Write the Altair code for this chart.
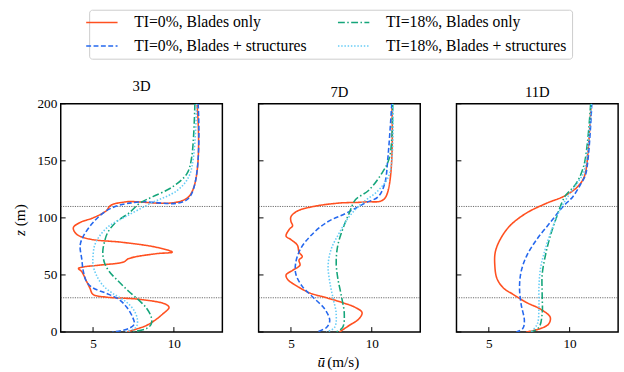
import altair as alt
import pandas as pd

FONT = "Liberation Serif, Times New Roman, serif"

# legend / draw order (legend fills column by column)
SERIES = ["TI=0%, Blades only", "TI=0%, Blades + structures",
          "TI=18%, Blades only", "TI=18%, Blades + structures"]
COLORS = ["#FF5020", "#2568EE", "#14A57A", "#66CCF6"]
DASHES = [[1, 0], [5, 2.5], [7, 2.5, 1.5, 2.5], [1.5, 1.8]]

PANELS = ["3D", "7D", "11D"]
X_TICKS = [5, 10]
Y_TICKS = [0, 50, 100, 150, 200]
HLINES = [30, 110]
X_TITLE = ["ū", "(m/s)"]
Y_TITLE = ["z", "(m)"]

# ---- 3D ----
U_3D_TI0_B = [11.43, 10.92, 7.0, 6.1, 5.8, 5.0, 4.2, 3.78, 3.98, 4.8, 6.8, 8.9, 9.9, 8.9, 7.2, 6.9, 5.4, 4.4, 4.1, 4.3, 4.6, 4.8, 5.0, 5.8, 7.9, 9.5, 9.7, 9.3, 8.8, 8.3, 7.4, 7.0]
Z_3D_TI0_B = [200, 118.6, 114, 111, 106, 100, 96, 91.4, 85.7, 81.4, 78.6, 74.3, 70, 68.6, 64.3, 61.4, 58.6, 57, 55.7, 52.9, 44.3, 38.6, 32.9, 30.6, 28.6, 24.3, 21.4, 15.7, 10, 5.7, 1.4, 0]
U_3D_TI0_BS = [11.5, 10.9, 7.9, 6.6, 5.8, 5.0, 4.4, 4.2, 4.3, 4.4, 4.6, 5.0, 5.8, 6.6, 7.1, 7.45, 7.55, 7.2, 6.2]
Z_3D_TI0_BS = [200, 117, 114, 111, 106, 96, 84, 76, 64, 53, 44, 38.6, 34, 28.6, 21.4, 12.9, 7, 3, 0]
U_3D_TI18_B = [11.3, 11.1, 10.8, 9.9, 8.7, 7.9, 7.2, 6.4, 5.9, 5.7, 5.6, 5.7, 6.0, 6.6, 7.2, 7.9, 8.3, 8.6, 8.6, 8.3, 7.4]
Z_3D_TI18_B = [200, 153, 138.6, 127, 118.6, 113, 104, 96, 87, 78.6, 70, 61, 53, 44, 35.7, 27, 21, 13, 7, 3, 0]
U_3D_TI18_BS = [11.4, 11.0, 10.2, 8.6, 7.0, 6.0, 5.4, 5.1, 5.0, 5.0, 5.2, 5.6, 6.2, 7.0, 7.55, 7.75, 7.65, 7.0]
Z_3D_TI18_BS = [200, 138.6, 124, 113, 101, 93, 84, 76, 67, 58.6, 50, 41, 34, 27, 18.6, 10, 4, 0]

# ---- 7D ----
U_7D_TI0_B = [11.24, 10.8, 9.6, 8.0, 6.4, 5.4, 5.0, 5.0, 5.1, 4.9, 4.7, 5.0, 5.4, 5.5, 5.7, 5.5, 5.56, 5.1, 4.7, 4.8, 5.4, 6.2, 7.2, 8.2, 9.0, 9.4, 9.2, 8.6, 8.0]
Z_7D_TI0_B = [200, 117, 114, 113, 110, 106, 101, 97, 93, 90, 84, 81, 76, 70, 66, 63, 58.6, 54, 50, 46, 40, 34, 30, 25.7, 21.4, 17, 11.4, 5.7, 0]
U_7D_TI0_BS = [11.24, 11.0, 10.8, 10.4, 9.6, 8.4, 7.2, 6.2, 5.6, 5.3, 5.3, 5.7, 6.4, 7.1, 7.4, 7.2, 6.6]
Z_7D_TI0_BS = [200, 153, 130, 118.6, 113, 104, 96, 84, 73, 61, 51, 40, 30, 20, 10, 4, 0]
U_7D_TI18_B = [11.3, 11.1, 10.6, 9.8, 9.0, 8.6, 8.2, 7.9, 7.8, 7.9, 8.1, 8.3, 8.2, 7.8]
Z_7D_TI18_B = [200, 153, 138.6, 124, 116, 104, 90, 76, 61, 47, 33, 16, 4, 0]
U_7D_TI18_BS = [11.3, 11.1, 10.4, 9.4, 8.6, 8.0, 7.5, 7.3, 7.4, 7.6, 7.8, 7.7, 7.2]
Z_7D_TI18_BS = [200, 138.6, 124, 113, 101, 87, 73, 58.6, 44, 30, 16, 4, 0]

# ---- 11D ----
U_11D_TI0_B = [11.33, 11.0, 10.8, 10.4, 9.6, 8.6, 7.3, 6.3, 5.7, 5.4, 5.37, 5.5, 5.9, 6.5, 7.35, 8.2, 8.8, 8.7, 8.2, 7.3]
Z_11D_TI0_B = [200, 141, 133, 126, 118.6, 113, 104, 93, 81, 70, 58.6, 47, 38.6, 33, 25.7, 20, 12.9, 7, 3, 0]
U_11D_TI0_BS = [11.37, 11.0, 10.7, 10.2, 9.6, 8.8, 7.96, 7.35, 7.0, 6.9, 7.0, 7.2, 7.1, 6.7]
Z_11D_TI0_BS = [200, 138.6, 130, 118.6, 110, 96, 81, 67, 53, 38.6, 24.3, 10, 3, 0]
U_11D_TI18_B = [11.3, 10.9, 10.4, 9.7, 9.2, 8.8, 8.5, 8.3, 8.3, 8.3, 8.1, 7.6]
Z_11D_TI18_B = [200, 147, 130, 118.6, 101, 84, 67, 50, 33, 16, 4, 0]
U_11D_TI18_BS = [11.35, 10.9, 10.6, 10.0, 9.4, 8.9, 8.5, 8.2, 8.1, 8.1, 8.0, 7.6]
Z_11D_TI18_BS = [200, 141, 133, 121, 107, 90, 73, 56, 38.6, 21, 7, 0]

CURVES = {
    "3D": [(U_3D_TI0_B, Z_3D_TI0_B), (U_3D_TI0_BS, Z_3D_TI0_BS),
           (U_3D_TI18_B, Z_3D_TI18_B), (U_3D_TI18_BS, Z_3D_TI18_BS)],
    "7D": [(U_7D_TI0_B, Z_7D_TI0_B), (U_7D_TI0_BS, Z_7D_TI0_BS),
           (U_7D_TI18_B, Z_7D_TI18_B), (U_7D_TI18_BS, Z_7D_TI18_BS)],
    "11D": [(U_11D_TI0_B, Z_11D_TI0_B), (U_11D_TI0_BS, Z_11D_TI0_BS),
            (U_11D_TI18_B, Z_11D_TI18_B), (U_11D_TI18_BS, Z_11D_TI18_BS)],
}

rows = []
for p in PANELS:
    for s, (us, zs) in zip(SERIES, CURVES[p]):
        for i, (u, z) in enumerate(zip(us, zs)):
            rows.append({"panel": p, "series": s, "i": i, "u": u, "z": z})
df = pd.DataFrame(rows)

W, H = 165, 233
XS = alt.Scale(domain=[3, 13], nice=False, zero=False)
YS = alt.Scale(domain=[0, 200], nice=False, zero=False)


def leg():
    return alt.Legend(
        title=None, orient="none", legendX=29, legendY=-96, columns=2,
        symbolType="M-4,0H4", symbolSize=64, symbolStrokeWidth=1.6,
        labelFont=FONT, labelFontSize=16, labelColor="black", labelOffset=25,
        labelLimit=400, rowPadding=8, columnPadding=27, padding=5,
        strokeColor="#cccccc", cornerRadius=3, fillColor="white",
    )


def panel(name, idx):
    d = df[df.panel == name]
    xaxis = alt.Axis(values=X_TICKS, title=None, ticks=False, domain=False, grid=False,
                     labelFont=FONT, labelFontSize=13.5, labelColor="black", labelPadding=5)
    if idx == 0:
        yaxis = alt.Axis(values=Y_TICKS, title=None, ticks=False, domain=False, grid=False,
                         labelFont=FONT, labelFontSize=13.5, labelColor="black", labelPadding=4)
    else:
        yaxis = None
    lines = alt.Chart(d).mark_line(strokeWidth=1.6, interpolate="catmull-rom", clip=True).encode(
        x=alt.X("u:Q", scale=XS, axis=xaxis),
        y=alt.Y("z:Q", scale=YS, axis=yaxis),
        color=alt.Color("series:N", scale=alt.Scale(domain=SERIES, range=COLORS), legend=leg()),
        strokeDash=alt.StrokeDash("series:N", scale=alt.Scale(domain=SERIES, range=DASHES), legend=leg()),
        order=alt.Order("i:Q"),
    )
    hl = alt.Chart(pd.DataFrame({"z": HLINES})).mark_rule(
        color="#444444", strokeWidth=0.8, strokeDash=[1.2, 1.2]).encode(
        y=alt.Y("z:Q", scale=YS, axis=yaxis), x=alt.value(0), x2=alt.value(W))
    xt = alt.Chart(pd.DataFrame({"u": X_TICKS})).mark_rule(color="black", strokeWidth=1).encode(
        x=alt.X("u:Q", scale=XS, axis=xaxis), y=alt.value(H), y2=alt.value(H - 5))
    yt = alt.Chart(pd.DataFrame({"z": Y_TICKS})).mark_rule(color="black", strokeWidth=1).encode(
        y=alt.Y("z:Q", scale=YS, axis=yaxis), x=alt.value(0), x2=alt.value(5))
    layers = [hl, lines, xt, yt]
    if idx == 0:
        t1 = alt.Chart(pd.DataFrame({"t": [Y_TITLE[0]]})).mark_text(
            font=FONT, fontSize=15.5, fontStyle="italic", angle=270, align="left",
            baseline="middle", color="black").encode(text="t:N", x=alt.value(-41), y=alt.value(135))
        t2 = alt.Chart(pd.DataFrame({"t": [Y_TITLE[1]]})).mark_text(
            font=FONT, fontSize=15.5, angle=270, align="left",
            baseline="middle", color="black").encode(text="t:N", x=alt.value(-41), y=alt.value(125))
        layers += [t1, t2]
    if idx == 1:
        t1 = alt.Chart(pd.DataFrame({"t": [X_TITLE[0]]})).mark_text(
            font=FONT, fontSize=15.5, fontStyle="italic", align="left",
            baseline="middle", color="black").encode(text="t:N", x=alt.value(60), y=alt.value(264))
        t2 = alt.Chart(pd.DataFrame({"t": [X_TITLE[1]]})).mark_text(
            font=FONT, fontSize=15.5, align="left",
            baseline="middle", color="black").encode(text="t:N", x=alt.value(70), y=alt.value(264))
        layers += [t1, t2]
    return alt.layer(*layers).properties(
        width=W, height=H,
        title=alt.TitleParams(name, font=FONT, fontSize=15, fontWeight="normal", color="black", offset=3))


chart = alt.hconcat(*[panel(p, i) for i, p in enumerate(PANELS)], spacing=33).properties(
    padding={"left": 13, "top": 5, "right": 4, "bottom": 0}, background="white"
).configure_view(stroke="black", strokeWidth=1.5)

chart.save("out.html", embed_options={"renderer": "svg", "actions": False})
